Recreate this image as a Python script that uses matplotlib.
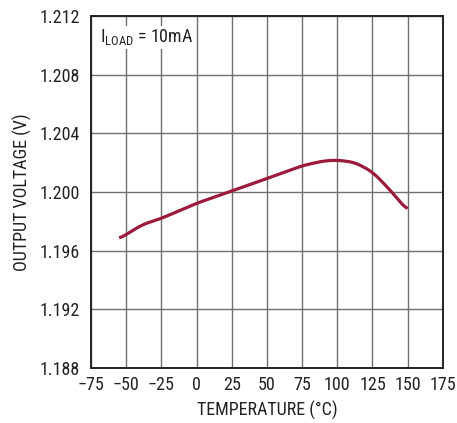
import matplotlib
matplotlib.use("Agg")
import matplotlib.pyplot as plt
import numpy as np

plt.rcParams['font.family'] = ['Roboto Condensed', 'DejaVu Sans']
plt.rcParams['mathtext.fontset'] = 'custom'
plt.rcParams['mathtext.rm'] = 'Roboto Condensed'

# data
temp = [-55, -45, -38, -25, 0, 25, 50, 75, 90, 100, 112.5, 125, 137.5, 150]
vout = [1.1968, 1.1974, 1.1978, 1.1982, 1.19923, 1.20007, 1.20092, 1.20179, 1.20212, 1.20218, 1.20202, 1.20138, 1.20014, 1.19873]

xticks = np.arange(-75, 176, 25)
yticks = [1.188, 1.192, 1.196, 1.200, 1.204, 1.208, 1.212]
ylabels = ['1.188', '1.192', '1.196', '1.200', '1.204', '1.208', '1.212']

fig = plt.figure(figsize=(4.57, 4.23), dpi=100)
ax = fig.add_axes([0.199, 0.130, 0.770, 0.832])

# smooth the read points a little for drawing
ts = np.linspace(temp[0], temp[-1], 300)
vs = np.interp(ts, temp, vout)
k = 7
vs_s = np.convolve(np.pad(vs, k, mode='edge'), np.ones(2 * k + 1) / (2 * k + 1), mode='same')[k:-k]
ax.plot(ts, vs_s, color='#9c1a3c', lw=2.3, solid_capstyle='butt')

ax.set_xlim(-75, 175)
ax.set_ylim(1.188, 1.212)
ax.set_xticks(xticks)
ax.set_yticks(yticks)
ax.set_yticklabels(ylabels)
ax.grid(True, color='#707070', lw=1.0)
ax.set_axisbelow(True)
ax.tick_params(length=0, labelsize=13, colors='#222222')
ax.tick_params(axis='y', pad=8)
ax.tick_params(axis='x', pad=6)
for s in ax.spines.values():
    s.set_linewidth(1.4)
    s.set_color('#222222')

ax.set_xlabel('TEMPERATURE (°C)', fontsize=13, color='#222222', labelpad=5)
ax.set_ylabel('OUTPUT VOLTAGE (V)', fontsize=13, color='#222222', labelpad=5)
ax.text(0.026, 0.968, r'I$_{\mathrm{LOAD}}$ = 10mA', transform=ax.transAxes,
        fontsize=13, va='top', ha='left', color='#222222',
        bbox=dict(facecolor='white', edgecolor='none', pad=1))

fig.savefig('out.png', dpi=100)
